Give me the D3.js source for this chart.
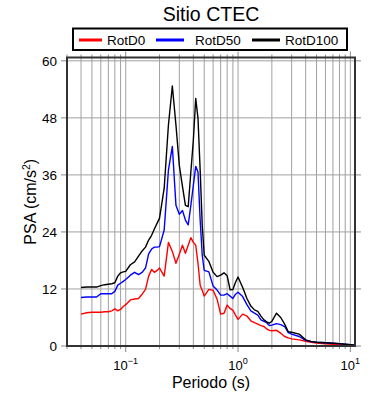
<!DOCTYPE html>
<html>
<head>
<meta charset="utf-8">
<script src="https://cdn.jsdelivr.net/npm/d3@7"></script>
<style>
  body { margin: 0; background: #fff; }
  text { font-family: "Liberation Sans", Arial, sans-serif; }
</style>
</head>
<body>
<div id="app"></div>
<script>
// periods (s)
const periods = [0.04, 0.045, 0.05, 0.055, 0.06, 0.065, 0.07, 0.075, 0.08, 0.085, 0.09, 0.095,
  0.1, 0.11, 0.12, 0.13, 0.14, 0.15, 0.16, 0.17, 0.18, 0.19, 0.2, 0.22, 0.24, 0.26, 0.28,
  0.3, 0.32, 0.34, 0.36, 0.38, 0.4, 0.42, 0.44, 0.46, 0.48, 0.5, 0.55, 0.6, 0.65, 0.7,
  0.75, 0.8, 0.85, 0.9, 0.95, 1.0, 1.1, 1.2, 1.3, 1.4, 1.5, 1.6, 1.7, 1.8, 1.9, 2.0,
  2.2, 2.4, 2.6, 2.8, 3.0, 3.5, 4.0, 4.5, 5, 6, 7, 8, 9, 10, 11];

const rotD0 = [6.7, 7.0, 7.1, 7.1, 7.1, 7.2, 7.2, 7.4, 7.8, 7.4, 7.7, 8.3,
  8.7, 9.7, 9.9, 10.0, 10.9, 11.9, 14.7, 16.1, 15.5, 15.9, 16.4, 14.7, 21.8, 19.9, 17.4,
  19.3, 21.2, 19.5, 21.2, 22.8, 21.8, 21.2, 17.4, 12.8, 11.7, 10.5, 11.9, 11.7, 9.9, 6.7,
  6.9, 8.6, 7.9, 7.5, 6.5, 5.6, 6.7, 6.3, 5.3, 4.9, 4.6, 4.3, 4.1, 3.6, 3.3, 3.2,
  3.3, 2.7, 2.0, 1.7, 1.5, 1.3, 1.0, 0.78, 0.63, 0.46, 0.36, 0.3, 0.21, 0.15, 0.1];

const rotD50 = [10.2, 10.3, 10.3, 10.3, 11.0, 11.0, 11.0, 11.0, 11.5, 12.8, 13.2, 13.6,
  14.0, 14.9, 15.5, 15.0, 15.5, 16.4, 19.4, 20.4, 20.8, 20.8, 20.9, 24.4, 37.0, 42.0, 29.6,
  27.7, 28.5, 26.5, 25.5, 29.6, 33.8, 37.8, 36.6, 26.5, 19.1, 15.9, 15.6, 12.6, 11.8, 10.7,
  10.7, 11.0, 10.5, 10.0, 10.9, 11.3, 10.4, 8.7, 7.4, 6.9, 6.5, 5.5, 5.2, 4.9, 4.3, 4.4,
  4.7, 4.5, 4.1, 2.8, 2.5, 2.0, 1.2, 0.93, 0.8, 0.67, 0.57, 0.5, 0.36, 0.25, 0.15];

const rotD100 = [12.3, 12.4, 12.4, 12.4, 12.7, 12.9, 13.0, 13.1, 13.3, 14.7, 15.4, 15.6,
  15.7, 17.1, 17.7, 18.9, 20.0, 20.8, 22.3, 23.3, 24.6, 25.8, 26.9, 33.2, 46.5, 54.7, 46.5,
  38.0, 33.6, 29.6, 29.3, 36.6, 43.3, 52.1, 47.9, 37.0, 25.4, 19.1, 17.8, 15.5, 14.6, 14.9,
  15.4, 14.8, 11.8, 11.9, 13.4, 14.5, 12.3, 10.0, 8.4, 7.6, 7.3, 6.3, 5.5, 5.1, 4.8, 5.2,
  6.9, 6.0, 4.6, 3.0, 2.9, 2.5, 1.3, 0.93, 0.8, 0.67, 0.57, 0.5, 0.36, 0.25, 0.15];

const seriesNames = ["RotD0", "RotD50", "RotD100"];
const seriesColors = ["#ff0000", "#0000ff", "#000000"];
const yTicks = [0, 12, 24, 36, 48, 60];
const xMajor = [0.1, 1, 10];
const xMajorExp = ["\u22121", "0", "1"];

var w = 390, h = 400;
var pLeft = 67, pRight = 355, pTop = 57.5, pBottom = 346;

const svg = d3.select("#app")
  .append("svg")
  .attr("width", w)
  .attr("height", h)
  .style("background-color", "#fff")

const xScale = d3.scaleLog()
  .domain([0.03, 11])
  .range([pLeft, pRight]);

const yScale = d3.scaleLinear()
  .domain([0, 60.7])
  .range([pBottom, pTop]);

// minor positions 0.03 .. 10
var xGrid = [];
[0.01, 0.1, 1, 10].forEach(dec => {
  for (var k = 1; k <= 9; k++) {
    var v = +(k * dec).toPrecision(3);
    if (v >= 0.03 && v <= 11) xGrid.push(v);
  }
});

// gridlines
svg.append("g")
  .selectAll("line")
  .data(xGrid)
  .enter()
  .append("line")
  .attr("x1", d => xScale(d)).attr("x2", d => xScale(d))
  .attr("y1", pTop).attr("y2", pBottom)
  .attr("stroke", "#a0a0a0")
  .attr("stroke-width", 1)

svg.append("g")
  .selectAll("line")
  .data(yTicks.filter(d => d > 0))
  .enter()
  .append("line")
  .attr("x1", pLeft).attr("x2", pRight)
  .attr("y1", d => yScale(d)).attr("y2", d => yScale(d))
  .attr("stroke", "#a0a0a0")
  .attr("stroke-width", 1)

// outward ticks
const ticks = svg.append("g").attr("stroke", "#8a8a8a").attr("stroke-width", 1)
xGrid.forEach(d => {
  var len = xMajor.indexOf(d) >= 0 ? 6 : 3;
  ticks.append("line")
    .attr("x1", xScale(d)).attr("x2", xScale(d))
    .attr("y1", pTop).attr("y2", pTop - len)
  ticks.append("line")
    .attr("x1", xScale(d)).attr("x2", xScale(d))
    .attr("y1", pBottom).attr("y2", pBottom + len)
})
yTicks.forEach(d => {
  ticks.append("line")
    .attr("x1", pLeft - 6).attr("x2", pLeft)
    .attr("y1", yScale(d)).attr("y2", yScale(d))
  ticks.append("line")
    .attr("x1", pRight).attr("x2", pRight + 6)
    .attr("y1", yScale(d)).attr("y2", yScale(d))
})

// curves
svg.append("clipPath").attr("id", "clip")
  .append("rect")
  .attr("x", pLeft).attr("y", pTop)
  .attr("width", pRight - pLeft).attr("height", pBottom - pTop)

const line = d3.line()
  .x((d, i) => xScale(periods[i]))
  .y(d => yScale(d))

const allSeries = [rotD0, rotD50, rotD100];
svg.append("g")
  .attr("clip-path", "url(#clip)")
  .selectAll("path")
  .data(allSeries)
  .enter()
  .append("path")
  .attr("d", d => line(d))
  .attr("fill", "none")
  .attr("stroke", (d, i) => seriesColors[i])
  .attr("stroke-width", 1.4)
  .attr("stroke-linejoin", "round")

// frame
svg.append("rect")
  .attr("x", pLeft).attr("y", pTop)
  .attr("width", pRight - pLeft).attr("height", pBottom - pTop)
  .attr("fill", "none")
  .attr("stroke", "#333")
  .attr("stroke-width", 2)

// y tick labels
svg.append("g")
  .selectAll("text")
  .data(yTicks)
  .enter()
  .append("text")
  .attr("x", pLeft - 10)
  .attr("y", d => yScale(d))
  .attr("dy", "0.36em")
  .style("text-anchor", "end")
  .style("font-size", "13.5px")
  .text(d => d)

// x tick labels 10^n
const xl = svg.append("g")
  .selectAll("text")
  .data(xMajor)
  .enter()
  .append("text")
  .attr("x", d => xScale(d))
  .attr("y", 370)
  .style("text-anchor", "middle")
  .style("font-size", "13px")
xl.append("tspan").text("10")
xl.append("tspan")
  .attr("dy", -6)
  .style("font-size", "9px")
  .text((d, i) => xMajorExp[i])

// axis titles
svg.append("text")
  .attr("x", (pLeft + pRight) / 2)
  .attr("y", 388)
  .style("text-anchor", "middle")
  .style("font-size", "16px")
  .text("Periodo (s)")

const yl = svg.append("text")
  .attr("transform", "translate(36," + ((pTop + pBottom) / 2) + ") rotate(-90)")
  .style("text-anchor", "middle")
  .style("font-size", "16px")
yl.append("tspan").text("PSA (cm/s")
yl.append("tspan").attr("dy", -6).style("font-size", "10.5px").text("2")
yl.append("tspan").attr("dy", 6).text(")")

// title
svg.append("text")
  .attr("x", 211)
  .attr("y", 21)
  .style("text-anchor", "middle")
  .style("font-size", "19.5px")
  .text("Sitio CTEC")

// legend
const legend = svg.append("g").attr("id", "legend")
legend.append("rect")
  .attr("x", 73).attr("y", 28.5)
  .attr("width", 274).attr("height", 21.5)
  .attr("fill", "#fff")
  .attr("stroke", "#000")
  .attr("stroke-width", 2)

const legX = [79, 156, 252];
seriesNames.forEach((name, i) => {
  legend.append("line")
    .attr("x1", legX[i]).attr("x2", legX[i] + 23 + (i > 0 ? 5 : 0))
    .attr("y1", 40).attr("y2", 40)
    .attr("stroke", seriesColors[i])
    .attr("stroke-width", 3)
  legend.append("text")
    .attr("x", legX[i] + 28 + (i == 1 ? 11 : (i == 2 ? 5 : 0)))
    .attr("y", 44.5)
    .style("font-size", "13.5px")
    .text(name)
})
</script>
</body>
</html>
